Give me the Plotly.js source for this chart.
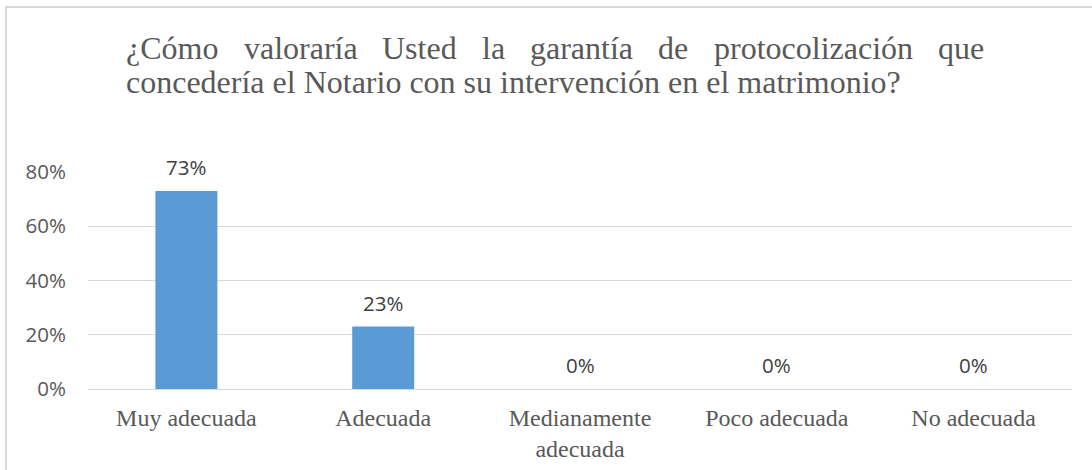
<!DOCTYPE html>
<html>
<head>
<meta charset="utf-8">
<script src="https://cdn.plot.ly/plotly-3.0.1.min.js"></script>
<style>html,body{margin:0;padding:0;background:#fff;}#chart{width:1092px;height:470px;}</style>
</head>
<body>
<div id="chart"></div>
<script>
const categories = ['Muy adecuada', 'Adecuada', 'Medianamente adecuada', 'Poco adecuada', 'No adecuada'];
const categoryLabels = ['Muy adecuada', 'Adecuada', 'Medianamente<br>adecuada', 'Poco adecuada', 'No adecuada'];
const values = [0.73, 0.23, 0, 0, 0];
const yTickVals = [0, 0.2, 0.4, 0.6, 0.8];
const yTickText = ['0%', '20%', '40%', '60%', '80%'];
const titleLine1Words = ['¿Cómo', 'valoraría', 'Usted', 'la', 'garantía', 'de', 'protocolización', 'que'];
const titleLine2 = 'concedería el Notario con su intervención en el matrimonio?';

const W = 1092, H = 470;
const M = {l: 88, r: 20, t: 172, b: 81};
const PW = W - M.l - M.r, PH = H - M.t - M.b;
const pxX = p => (p - M.l) / PW;
const pxY = p => (H - M.b - p) / PH;

const serif = 'Liberation Serif, Times New Roman, serif';
const sans = 'Open Sans, Noto Sans, sans-serif';
const titleSize = 32;

// justify first title line between two edges
const cv = document.createElement('canvas').getContext('2d');
cv.font = titleSize + 'px "Liberation Serif"';
const left = 125, right = 983;
const widths = titleLine1Words.map(w => cv.measureText(w).width);
const total = widths.reduce((a, b) => a + b, 0);
const gap = (right - left - total) / (titleLine1Words.length - 1);

const annotations = [];
let cx = left;
titleLine1Words.forEach((w, i) => {
  annotations.push({
    text: w, xref: 'paper', yref: 'paper', x: pxX(cx), y: pxY(48),
    xanchor: 'left', yanchor: 'middle', showarrow: false, borderpad: 0,
    font: {family: serif, size: titleSize, color: '#595959'}
  });
  cx += widths[i] + gap;
});
annotations.push({
  text: titleLine2, xref: 'paper', yref: 'paper', x: pxX(left), y: pxY(82),
  xanchor: 'left', yanchor: 'middle', showarrow: false, borderpad: 0,
  font: {family: serif, size: titleSize, color: '#595959'}
});

categories.forEach((c, i) => {
  annotations.push({
    text: Math.round(values[i] * 100) + '%', x: c, y: values[i], xref: 'x', yref: 'y',
    yanchor: 'middle', xanchor: 'center', yshift: 24, showarrow: false,
    font: {family: sans, size: 20.5, color: '#404040'}
  });
});

const trace = {
  type: 'bar', x: categories, y: values,
  marker: {color: '#5B9BD5'}, hoverinfo: 'none'
};

const layout = {
  width: W, height: H, margin: M, showlegend: false,
  paper_bgcolor: '#ffffff', plot_bgcolor: '#ffffff',
  bargap: 0.685,
  xaxis: {
    type: 'category', tickvals: categories, ticktext: categoryLabels,
    showgrid: false, zeroline: false, showline: false, ticks: '',
    ticklabelstandoff: 12,
    tickfont: {family: serif, size: 24, color: '#595959'}
  },
  yaxis: {
    range: [0, 0.8], tickvals: yTickVals, ticktext: yTickText,
    showgrid: true, gridcolor: '#d9d9d9', gridwidth: 1,
    zeroline: true, zerolinecolor: '#d9d9d9', zerolinewidth: 1,
    showline: false, ticks: '', ticklabelstandoff: 21,
    tickfont: {family: sans, size: 20.5, color: '#595959'}
  },
  shapes: [{
    type: 'rect', xref: 'paper', yref: 'paper', layer: 'above',
    x0: pxX(6), y0: pxY(7), x1: pxX(1300), y1: pxY(700),
    line: {color: '#d9d9d9', width: 2}, fillcolor: 'rgba(0,0,0,0)'
  }],
  annotations: annotations
};

Plotly.newPlot('chart', [trace], layout, {staticPlot: true, displayModeBar: false});
</script>
</body>
</html>
